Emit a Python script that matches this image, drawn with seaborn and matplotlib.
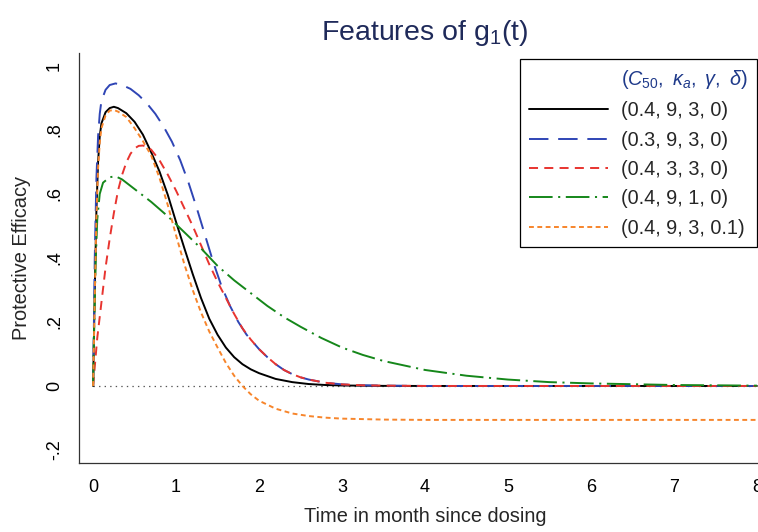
#!/usr/bin/env python3
"""
plot.py - features of g1(t): protective efficacy over time for several parameter sets
"""

import pandas as pd
import matplotlib
matplotlib.use('Agg')
import matplotlib.pyplot as plt
from matplotlib.lines import Line2D
import seaborn as sns

# Values
X_BLACK = [0, 0.02, 0.04, 0.06, 0.08, 0.1, 0.15, 0.2, 0.25, 0.3, 0.4, 0.5, 0.6, 0.7, 0.8, 0.9,
           1.0, 1.1, 1.2, 1.3, 1.4, 1.5, 1.6, 1.7, 1.8, 1.9, 2.0, 2.2, 2.4, 2.6, 2.8, 3.0,
           3.5, 4.0, 5.0, 6.0, 7.0, 8.0]
Y_BLACK = [0, 0.3, 0.55, 0.7, 0.78, 0.82, 0.855, 0.868, 0.872, 0.868, 0.852, 0.825, 0.785, 0.73, 0.67, 0.597,
           0.512, 0.43, 0.35, 0.275, 0.21, 0.16, 0.12, 0.09, 0.068, 0.052, 0.04, 0.022, 0.012, 0.006, 0.003, 0.0015,
           0.0003, 0, 0, 0, 0, 0]

X_BLUE = [0, 0.02, 0.04, 0.06, 0.08, 0.1, 0.15, 0.2, 0.27, 0.35, 0.45, 0.55, 0.65, 0.75, 0.85, 0.95,
          1.05, 1.15, 1.25, 1.35, 1.45, 1.55, 1.65, 1.75, 1.85, 2.0, 2.1, 2.2, 2.3, 2.4, 2.5, 2.6,
          2.8, 3.0, 3.25, 3.5, 4.0, 5.0, 6.0, 7.0, 8.0]
Y_BLUE = [0, 0.4, 0.65, 0.78, 0.85, 0.89, 0.925, 0.94, 0.945, 0.94, 0.928, 0.908, 0.882, 0.85, 0.81, 0.763,
          0.705, 0.635, 0.555, 0.47, 0.385, 0.31, 0.25, 0.2, 0.16, 0.115, 0.09, 0.068, 0.05, 0.037, 0.027, 0.02,
          0.01, 0.005, 0.002, 0.001, 0, 0, 0, 0, 0]

X_RED = [0, 0.02, 0.05, 0.1, 0.15, 0.2, 0.25, 0.3, 0.35, 0.4, 0.45, 0.5, 0.55, 0.6, 0.65, 0.7, 0.8, 0.9,
         1.0, 1.1, 1.2, 1.3, 1.4, 1.5, 1.6, 1.7, 1.8, 1.9, 2.0, 2.1, 2.2, 2.3, 2.4, 2.5, 2.6,
         2.8, 3.0, 3.25, 3.5, 4.0, 5.0, 6.0, 7.0, 8.0]
Y_RED = [0, 0.06, 0.15, 0.26, 0.37, 0.46, 0.54, 0.61, 0.66, 0.698, 0.725, 0.742, 0.75, 0.751, 0.747, 0.738, 0.705,
         0.66, 0.61, 0.555, 0.5, 0.44, 0.38, 0.325, 0.275, 0.225, 0.18, 0.145, 0.115, 0.09, 0.068, 0.05, 0.037, 0.027,
         0.02, 0.01, 0.005, 0.002, 0.001, 0, 0, 0, 0, 0]

X_GREEN = [0, 0.01, 0.03, 0.05, 0.08, 0.12, 0.2, 0.27, 0.35, 0.5, 0.7, 0.9, 1.1, 1.3, 1.5, 1.7, 1.9,
           2.1, 2.3, 2.5, 2.75, 3.0, 3.25, 3.5, 4.0, 4.5, 5.0, 5.5, 6.0, 7.0, 8.0]
Y_GREEN = [0, 0.15, 0.38, 0.52, 0.6, 0.635, 0.652, 0.655, 0.645, 0.615, 0.575, 0.53, 0.48, 0.43, 0.375, 0.33, 0.29,
           0.25, 0.215, 0.185, 0.15, 0.12, 0.097, 0.078, 0.05, 0.032, 0.02, 0.012, 0.008, 0.003, 0.001]

X_ORANGE = [0, 0.02, 0.04, 0.06, 0.08, 0.1, 0.15, 0.2, 0.25, 0.3, 0.4, 0.5, 0.6, 0.7, 0.8, 0.9,
            1.0, 1.1, 1.2, 1.3, 1.4, 1.5, 1.6, 1.7, 1.8, 1.9, 2.0, 2.2, 2.4, 2.6, 2.8, 3.0,
            3.5, 4.0, 5.0, 6.0, 7.0, 8.0]
Y_ORANGE = [0, 0.28, 0.53, 0.68, 0.76, 0.805, 0.845, 0.86, 0.862, 0.857, 0.84, 0.805, 0.765, 0.72, 0.65, 0.565,
            0.47, 0.38, 0.3, 0.23, 0.17, 0.12, 0.072, 0.032, 0.0, -0.026, -0.046, -0.071, -0.086, -0.094, -0.099, -0.102,
            -0.105, -0.106, -0.106, -0.106, -0.106, -0.106]

ZERO_X = [0, 8]
ZERO_Y = [0, 0]

LABELS = ['(0.4, 9, 3, 0)', '(0.3, 9, 3, 0)', '(0.4, 3, 3, 0)', '(0.4, 9, 1, 0)', '(0.4, 9, 3, 0.1)']
HEADER = r'$(C_{50},\ \kappa_a,\ \gamma,\ \delta)$'

X_TICKS = [0, 1, 2, 3, 4, 5, 6, 7, 8]
Y_TICKS = [-0.2, 0, 0.2, 0.4, 0.6, 0.8, 1.0]
Y_TICK_LABELS = ['-.2', '0', '.2', '.4', '.6', '.8', '1']

# colour / dash pattern per series (points, not scaled by width)
STYLES = [
    ('#000000', '-'),
    ('#2F45B5', (0, (14, 7))),
    ('#E8342F', (0, (6.5, 4.5))),
    ('#15871A', (0, (17, 4, 1.5, 4))),
    ('#F7852B', (0, (3.5, 2.5))),
]


def setup_style():
    sns.set_style("white")
    plt.rcParams.update({
        'font.family': ['Liberation Sans', 'DejaVu Sans'],
        'mathtext.fontset': 'custom',
        'mathtext.rm': 'Liberation Sans',
        'mathtext.it': 'Liberation Sans:italic',
        'lines.scale_dashes': False,
        'axes.edgecolor': '#333333',
        'axes.linewidth': 0.9,
    })


def main():
    setup_style()

    fig = plt.figure(figsize=(7.58, 5.32), dpi=100)
    ax = fig.add_axes([79 / 758, 69 / 532, 692 / 758, 410 / 532])

    ax.plot(ZERO_X, ZERO_Y, color='#555555', lw=0.9, linestyle=(0, (1, 3)))

    series = [(X_BLACK, Y_BLACK), (X_BLUE, Y_BLUE), (X_RED, Y_RED),
              (X_GREEN, Y_GREEN), (X_ORANGE, Y_ORANGE)]
    handles = [Line2D([], [], color='none', label=HEADER)]
    for (xs, ys), label, (color, ls) in zip(series, LABELS, STYLES):
        df = pd.DataFrame({'t': xs, 'pe': ys})
        sns.lineplot(data=df, x='t', y='pe', ax=ax, color=color, linestyle=ls,
                     lw=1.4, estimator=None, sort=False, legend=False)
        handles.append(Line2D([], [], color=color, linestyle=ls, lw=1.4, label=label))

    ax.set_xlim(-0.17, 8.17)
    ax.set_ylim(-0.2406, 1.04)
    ax.set_xticks(X_TICKS)
    ax.set_yticks(Y_TICKS)
    ax.set_yticklabels(Y_TICK_LABELS, rotation=90, va='center')
    ax.tick_params(axis='both', direction='out', length=4.5, width=0.8, color='#333333',
                   labelsize=13, labelcolor='black', pad=7)
    sns.despine(ax=ax)

    ax.set_xlabel('Time in month since dosing', fontsize=14.4, labelpad=8)
    ax.set_ylabel('Protective Efficacy', fontsize=14.4, labelpad=11)
    ax.set_title(r'Features of g$_1$(t)', fontsize=20.5, color='#1F2A5A', pad=9)

    leg = ax.legend(handles=handles, loc='upper right', bbox_to_anchor=(757 / 758, 1 - 59 / 532),
                    bbox_transform=fig.transFigure, borderaxespad=0, fontsize=14.3,
                    handlelength=4.0, handletextpad=0.65, labelspacing=0.52, borderpad=0.45,
                    frameon=True, fancybox=False, framealpha=1, edgecolor='black')
    leg.get_frame().set_linewidth(0.9)
    leg.get_texts()[0].set_color('#1F3A8A')

    fig.savefig('out.png', dpi=100, facecolor='white')
    plt.close(fig)


if __name__ == "__main__":
    main()
